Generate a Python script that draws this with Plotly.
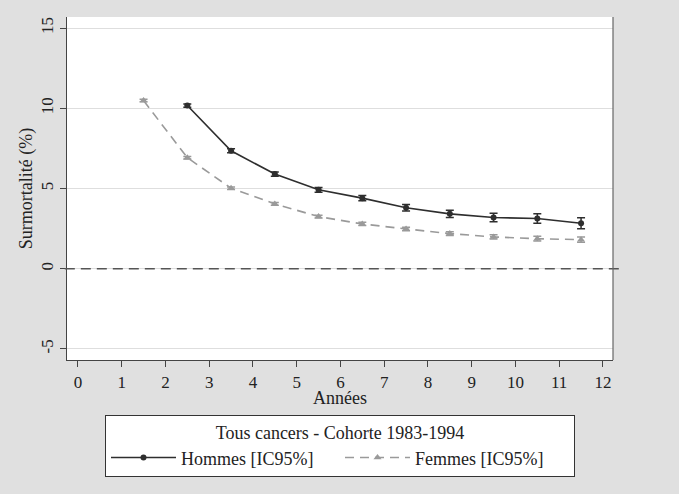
import plotly.graph_objects as go

# Data
annees_h = [2.5, 3.5, 4.5, 5.5, 6.5, 7.5, 8.5, 9.5, 10.5, 11.5]
hommes = [10.17, 7.35, 5.9, 4.92, 4.4, 3.8, 3.42, 3.19, 3.13, 2.83]
hommes_err = [0.1, 0.12, 0.13, 0.15, 0.17, 0.2, 0.23, 0.26, 0.29, 0.34]

annees_f = [1.5, 2.5, 3.5, 4.5, 5.5, 6.5, 7.5, 8.5, 9.5, 10.5, 11.5]
femmes = [10.48, 6.92, 5.02, 4.04, 3.25, 2.79, 2.48, 2.19, 1.98, 1.87, 1.81]
femmes_err = [0.08, 0.08, 0.08, 0.08, 0.09, 0.1, 0.11, 0.12, 0.13, 0.15, 0.16]

x_ticks = list(range(0, 13))
y_ticks = [-5, 0, 5, 10, 15]
y_ticklabels = ["-5", "0", "5", "10", "15"]

FONT = "Liberation Serif"
DARK = "#2e2e2e"
GRAY = "#9a9a9a"

fig = go.Figure()
fig.add_trace(go.Scatter(
    x=annees_h, y=hommes, mode="lines+markers", name="Hommes [IC95%]",
    line=dict(color=DARK, width=1.6),
    marker=dict(symbol="circle", size=6, color=DARK),
    error_y=dict(type="data", array=hommes_err, color=DARK, thickness=1.5, width=4),
))
fig.add_trace(go.Scatter(
    x=annees_f, y=femmes, mode="lines+markers", name="Femmes [IC95%]",
    line=dict(color=GRAY, width=1.6, dash="9px,6px"),
    marker=dict(symbol="triangle-up", size=7, color=GRAY),
    error_y=dict(type="data", array=femmes_err, color=GRAY, thickness=1.5, width=4),
))

# zero reference line extends past the plot edges
fig.add_shape(type="line", xref="paper", yref="y", x0=-0.004, x1=1.015, y0=0, y1=0,
              line=dict(color="#555555", width=1.4, dash="10px,6px"), layer="above")

fig.update_layout(
    width=679, height=494,
    paper_bgcolor="#e0e0e0", plot_bgcolor="white",
    margin=dict(l=67, r=66, t=17, b=134, autoexpand=False),
    font=dict(family=FONT, size=17, color="#222222"),
    showlegend=True,
    legend=dict(
        orientation="h", x=0.5, xanchor="center", y=-0.16, yanchor="top",
        bgcolor="white", bordercolor="#333333", borderwidth=1,
        font=dict(family=FONT, size=18, color="#222222"),
        title=dict(text="Tous cancers - Cohorte 1983-1994", side="top center",
                   font=dict(family=FONT, size=18, color="#222222")),
        itemwidth=65, entrywidth=154, tracegroupgap=0,
    ),
)
fig.add_annotation(text="Années", xref="paper", yref="paper", x=0.5, y=-0.112,
                   xanchor="center", yanchor="middle", showarrow=False,
                   font=dict(family=FONT, size=18, color="#222222"))
fig.update_xaxes(
    range=[-0.25, 12.23], tickvals=x_ticks, ticks="outside", ticklen=6,
    tickcolor="#444444", showgrid=False, zeroline=False, automargin=False,
    showline=True, linecolor="#444444", linewidth=1.2, mirror=False,
    tickfont=dict(size=17),
)
fig.update_yaxes(
    range=[-5.69, 15.69], tickvals=y_ticks, ticktext=y_ticklabels,
    ticks="outside", ticklen=6, automargin=False,
    tickcolor="#444444", tickangle=-90,
    showgrid=True, gridcolor="#dedede", gridwidth=1.2, zeroline=False,
    showline=True, linecolor="#444444", linewidth=1.2,
    title=dict(text="Surmortalité (%)", standoff=0, font=dict(size=18)),
    tickfont=dict(size=17),
)
# right border of plot region
fig.add_shape(type="line", xref="paper", yref="paper", x0=1, x1=1, y0=0, y1=1,
              line=dict(color="#666666", width=1.2))

fig.write_html("out.html", config={"displayModeBar": False},
               post_script="document.body.style.margin='0';")
